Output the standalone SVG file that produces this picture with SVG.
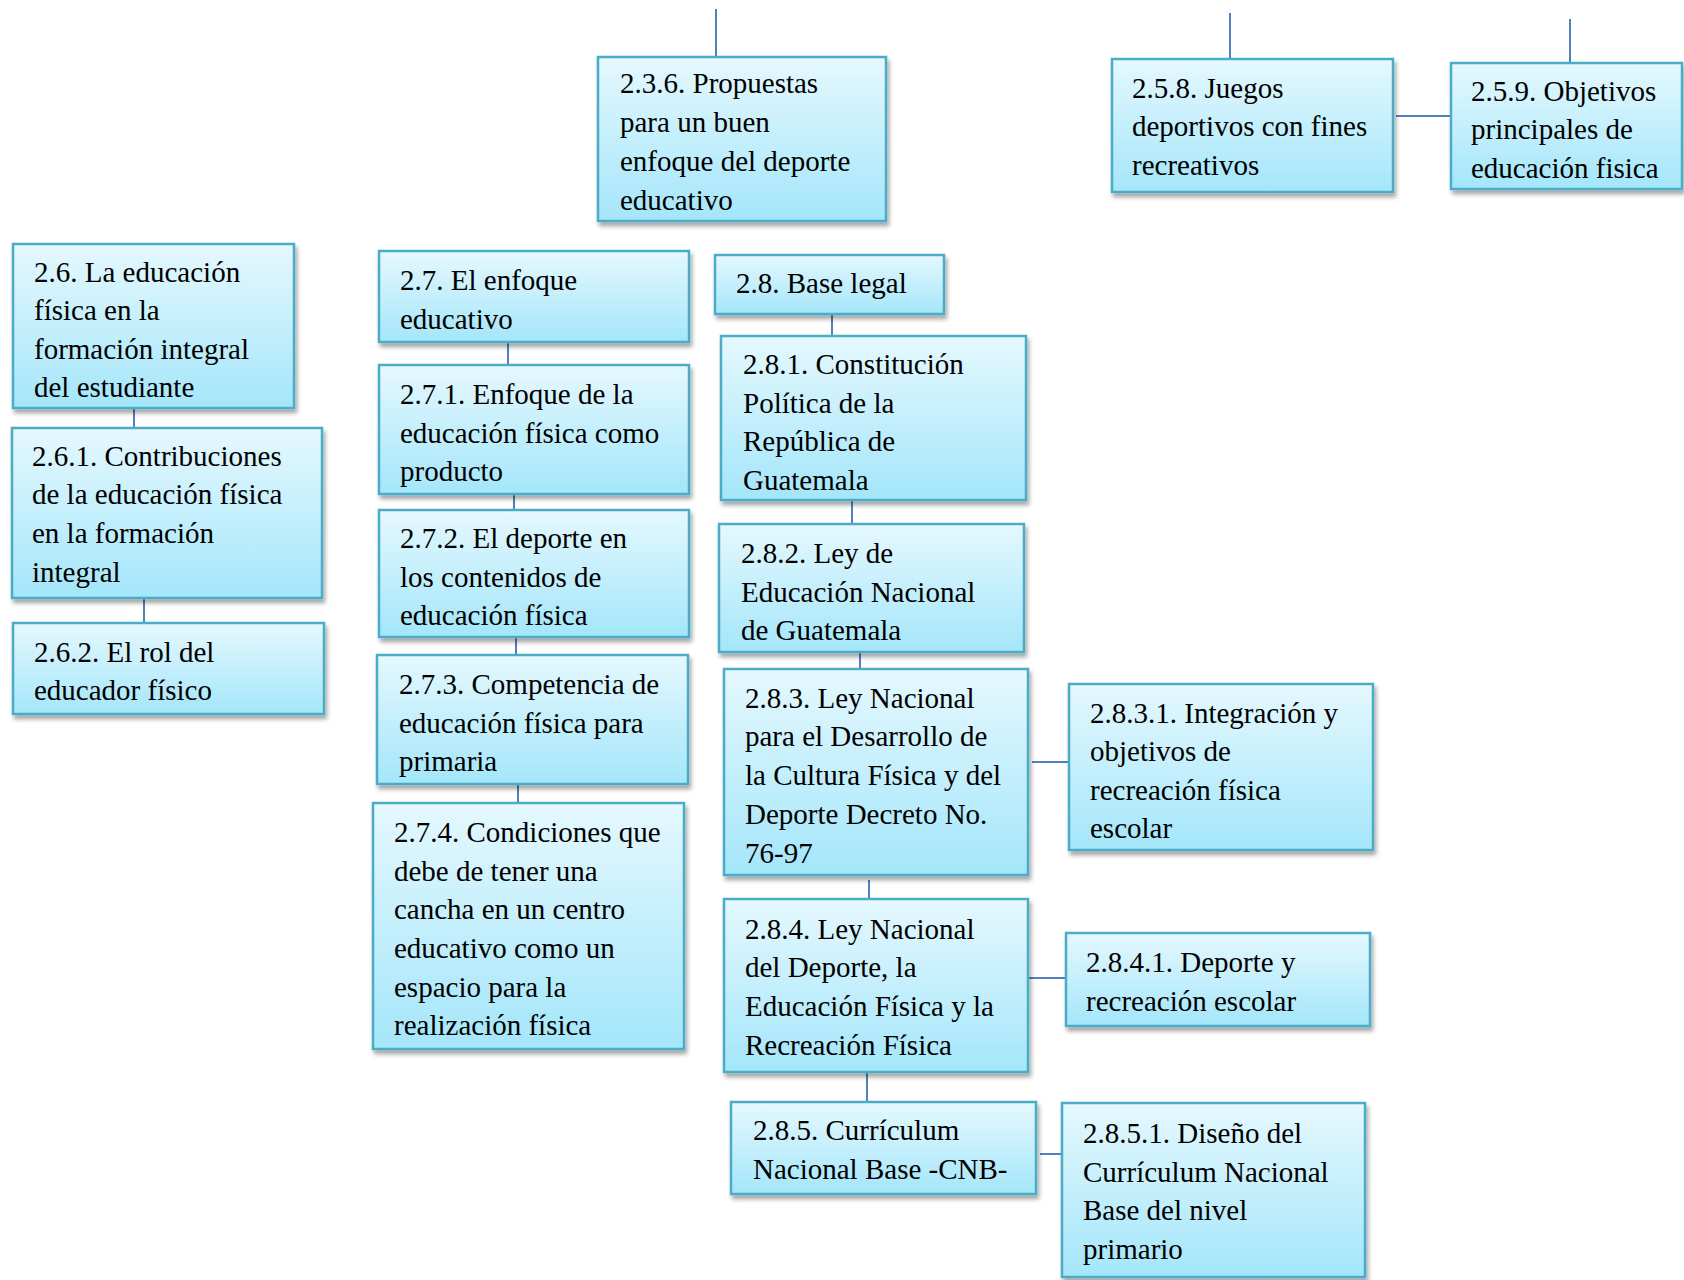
<svg xmlns="http://www.w3.org/2000/svg" width="1684" height="1280" viewBox="0 0 1684 1280">
<defs>
<linearGradient id="g" x1="0" y1="0" x2="0" y2="1">
<stop offset="0" stop-color="#E5F8FE"/>
<stop offset="1" stop-color="#A4E6FA"/>
</linearGradient>
<filter id="sh" x="-10%" y="-10%" width="125%" height="130%">
<feDropShadow dx="2" dy="4" stdDeviation="2" flood-color="#000" flood-opacity="0.35"/>
</filter>
</defs>
<style>
.box{fill:url(#g);stroke:#4BACC6;stroke-width:2.5;filter:url(#sh)}
.t{font-family:"Liberation Serif","Times New Roman",serif;font-size:29px;fill:#000}
.c{stroke:#4F81BD;stroke-width:2;fill:none}
</style>
<rect width="1684" height="1280" fill="#fff"/>
<g id="connectors">
<path class="c" d="M716 9V57"/>
<path class="c" d="M1230 13V59"/>
<path class="c" d="M1570 19V63"/>
<path class="c" d="M1396 116H1451"/>
<path class="c" d="M134 408V428"/>
<path class="c" d="M144 598V623"/>
<path class="c" d="M508 342V365"/>
<path class="c" d="M514 494V510"/>
<path class="c" d="M516 637V655"/>
<path class="c" d="M518 784V803"/>
<path class="c" d="M832 314V336"/>
<path class="c" d="M852 500V524"/>
<path class="c" d="M860 652V669"/>
<path class="c" d="M1032 762H1069"/>
<path class="c" d="M869 880V899"/>
<path class="c" d="M1022 978H1066"/>
<path class="c" d="M867 1072V1102"/>
<path class="c" d="M1040 1154H1062"/>
</g>
<g id="n236"><rect class="box" x="598" y="57" width="288" height="164"/>
<text class="t"><tspan x="620" y="93">2.3.6. Propuestas</tspan><tspan x="620" y="132">para un buen</tspan><tspan x="620" y="171">enfoque del deporte</tspan><tspan x="620" y="210">educativo</tspan></text></g>
<g id="n258"><rect class="box" x="1112" y="59" width="281" height="133"/>
<text class="t"><tspan x="1132" y="98">2.5.8. Juegos</tspan><tspan x="1132" y="136">deportivos con fines</tspan><tspan x="1132" y="175">recreativos</tspan></text></g>
<g id="n259"><rect class="box" x="1451" y="63" width="231" height="126"/>
<text class="t"><tspan x="1471" y="101">2.5.9. Objetivos</tspan><tspan x="1471" y="139">principales de</tspan><tspan x="1471" y="178">educación fisica</tspan></text></g>
<g id="n26"><rect class="box" x="13" y="244" width="281" height="164"/>
<text class="t"><tspan x="34" y="282">2.6. La educación</tspan><tspan x="34" y="320">física en la</tspan><tspan x="34" y="359">formación integral</tspan><tspan x="34" y="397">del estudiante</tspan></text></g>
<g id="n261"><rect class="box" x="12" y="428" width="310" height="170"/>
<text class="t"><tspan x="32" y="466">2.6.1. Contribuciones</tspan><tspan x="32" y="504">de la educación física</tspan><tspan x="32" y="543">en la formación</tspan><tspan x="32" y="582">integral</tspan></text></g>
<g id="n262"><rect class="box" x="13" y="623" width="311" height="91"/>
<text class="t"><tspan x="34" y="662">2.6.2. El rol del</tspan><tspan x="34" y="700">educador físico</tspan></text></g>
<g id="n27"><rect class="box" x="379" y="251" width="310" height="91"/>
<text class="t"><tspan x="400" y="290">2.7. El enfoque</tspan><tspan x="400" y="329">educativo</tspan></text></g>
<g id="n271"><rect class="box" x="379" y="365" width="310" height="129"/>
<text class="t"><tspan x="400" y="404">2.7.1. Enfoque de la</tspan><tspan x="400" y="443">educación física como</tspan><tspan x="400" y="481">producto</tspan></text></g>
<g id="n272"><rect class="box" x="379" y="510" width="310" height="127"/>
<text class="t"><tspan x="400" y="548">2.7.2. El deporte en</tspan><tspan x="400" y="587">los contenidos de</tspan><tspan x="400" y="625">educación física</tspan></text></g>
<g id="n273"><rect class="box" x="377" y="655" width="311" height="129"/>
<text class="t"><tspan x="399" y="694">2.7.3. Competencia de</tspan><tspan x="399" y="733">educación física para</tspan><tspan x="399" y="771">primaria</tspan></text></g>
<g id="n274"><rect class="box" x="373" y="803" width="311" height="246"/>
<text class="t"><tspan x="394" y="842">2.7.4. Condiciones que</tspan><tspan x="394" y="881">debe de tener una</tspan><tspan x="394" y="919">cancha en un centro</tspan><tspan x="394" y="958">educativo como un</tspan><tspan x="394" y="997">espacio para la</tspan><tspan x="394" y="1035">realización física</tspan></text></g>
<g id="n28"><rect class="box" x="715" y="255" width="229" height="59"/>
<text class="t"><tspan x="736" y="293">2.8. Base legal</tspan></text></g>
<g id="n281"><rect class="box" x="721" y="336" width="305" height="164"/>
<text class="t"><tspan x="743" y="374">2.8.1. Constitución</tspan><tspan x="743" y="413">Política de la</tspan><tspan x="743" y="451">República de</tspan><tspan x="743" y="490">Guatemala</tspan></text></g>
<g id="n282"><rect class="box" x="719" y="524" width="305" height="128"/>
<text class="t"><tspan x="741" y="563">2.8.2. Ley de</tspan><tspan x="741" y="602">Educación Nacional</tspan><tspan x="741" y="640">de Guatemala</tspan></text></g>
<g id="n283"><rect class="box" x="724" y="669" width="304" height="206"/>
<text class="t"><tspan x="745" y="708">2.8.3. Ley Nacional</tspan><tspan x="745" y="746">para el Desarrollo de</tspan><tspan x="745" y="785">la Cultura Física y del</tspan><tspan x="745" y="824">Deporte Decreto No.</tspan><tspan x="745" y="863">76-97</tspan></text></g>
<g id="n2831"><rect class="box" x="1069" y="684" width="304" height="166"/>
<text class="t"><tspan x="1090" y="723">2.8.3.1. Integración y</tspan><tspan x="1090" y="761">objetivos de</tspan><tspan x="1090" y="800">recreación física</tspan><tspan x="1090" y="838">escolar</tspan></text></g>
<g id="n284"><rect class="box" x="724" y="899" width="304" height="173"/>
<text class="t"><tspan x="745" y="939">2.8.4. Ley Nacional</tspan><tspan x="745" y="977">del Deporte, la</tspan><tspan x="745" y="1016">Educación Física y la</tspan><tspan x="745" y="1055">Recreación Física</tspan></text></g>
<g id="n2841"><rect class="box" x="1066" y="933" width="304" height="93"/>
<text class="t"><tspan x="1086" y="972">2.8.4.1. Deporte y</tspan><tspan x="1086" y="1011">recreación escolar</tspan></text></g>
<g id="n285"><rect class="box" x="731" y="1102" width="305" height="92"/>
<text class="t"><tspan x="753" y="1140">2.8.5. Currículum</tspan><tspan x="753" y="1179">Nacional Base -CNB-</tspan></text></g>
<g id="n2851"><rect class="box" x="1062" y="1103" width="303" height="174"/>
<text class="t"><tspan x="1083" y="1143">2.8.5.1. Diseño del</tspan><tspan x="1083" y="1182">Currículum Nacional</tspan><tspan x="1083" y="1220">Base del nivel</tspan><tspan x="1083" y="1259">primario</tspan></text></g>
</svg>
